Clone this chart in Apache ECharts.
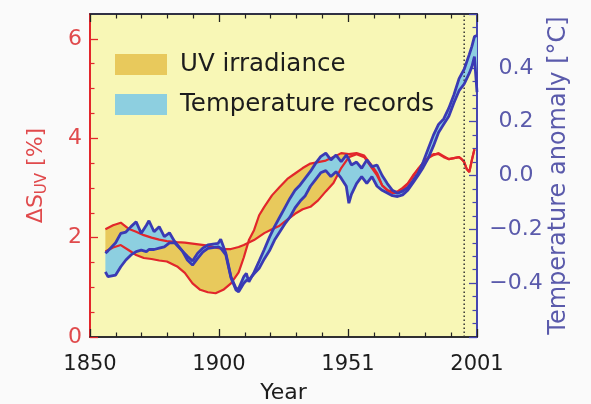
<!DOCTYPE html>
<html><head><meta charset="utf-8">
<script src="https://cdn.jsdelivr.net/npm/echarts@6/dist/echarts.min.js"></script>
<style>html,body{margin:0;padding:0;background:#fafafa;}#c{width:591px;height:404px;}</style>
</head><body><div id="c"></div>
<script>
// ---- data ----
const uvYears = [1856,1859,1862,1865,1868,1871,1874,1877,1880,1884,1887,1890,1893,1896,1899,1902,1905,1908,1910,1912,1914,1916,1918,1921,1924,1927,1930,1933,1936,1939,1942,1945,1948,1951,1954,1957,1960,1962,1964,1966,1968,1970,1972,1974,1976,1978,1980,1982,1984,1986,1988,1990,1992,1994,1995,1996,1997,1998,1999,2000];
const uvCurveA = [2.17,2.25,2.30,2.18,2.12,2.05,2.00,1.96,1.93,1.91,1.90,1.88,1.86,1.84,1.80,1.77,1.77,1.81,1.85,1.90,1.95,2.02,2.09,2.17,2.24,2.36,2.48,2.57,2.62,2.75,2.93,3.10,3.40,3.62,3.68,3.62,3.40,3.25,3.05,2.95,2.90,2.90,2.97,3.08,3.22,3.38,3.50,3.60,3.66,3.70,3.64,3.58,3.60,3.62,3.58,3.52,3.38,3.32,3.56,3.78];
const uvCurveB = [1.72,1.80,1.85,1.75,1.65,1.59,1.57,1.54,1.52,1.42,1.29,1.08,0.95,0.90,0.88,0.95,1.08,1.30,1.60,1.95,2.15,2.45,2.62,2.85,3.02,3.18,3.29,3.40,3.49,3.52,3.55,3.62,3.70,3.68,3.70,3.65,3.45,3.30,3.05,2.96,2.92,2.93,3.00,3.09,3.25,3.38,3.50,3.62,3.68,3.68,3.62,3.58,3.60,3.62,3.58,3.52,3.38,3.32,3.56,3.78];

const tempYears = [1856,1857,1860,1862,1864,1866,1868,1870,1872,1873,1875,1877,1879,1881,1883,1886,1888,1890,1892,1894,1896,1898,1900,1901,1903,1905,1907,1908,1910,1911,1912,1914,1916,1918,1920,1922,1924,1926,1928,1930,1932,1934,1936,1938,1940,1942,1944,1946,1948,1950,1951,1952,1954,1956,1958,1960,1962,1964,1966,1968,1970,1972,1974,1976,1978,1980,1982,1984,1986,1988,1990,1992,1994,1996,1998,1999,2000,2001];
const tempUpper = [-0.289,-0.280,-0.250,-0.215,-0.210,-0.190,-0.172,-0.215,-0.185,-0.168,-0.209,-0.190,-0.227,-0.213,-0.245,-0.280,-0.300,-0.318,-0.289,-0.270,-0.258,-0.255,-0.252,-0.237,-0.289,-0.376,-0.420,-0.420,-0.376,-0.364,-0.395,-0.360,-0.318,-0.275,-0.230,-0.190,-0.155,-0.120,-0.085,-0.055,-0.035,-0.010,0.015,0.045,0.070,0.083,0.058,0.076,0.051,0.076,0.060,0.039,0.050,0.027,0.058,0.033,0.039,0.000,-0.030,-0.055,-0.066,-0.058,-0.045,-0.020,0.008,0.050,0.100,0.150,0.190,0.210,0.250,0.300,0.360,0.395,0.450,0.480,0.516,0.520];
const tempLower = [-0.358,-0.376,-0.370,-0.339,-0.314,-0.295,-0.283,-0.277,-0.283,-0.275,-0.275,-0.270,-0.265,-0.250,-0.250,-0.280,-0.314,-0.333,-0.308,-0.285,-0.271,-0.268,-0.265,-0.270,-0.295,-0.380,-0.426,-0.432,-0.400,-0.390,-0.388,-0.365,-0.345,-0.310,-0.280,-0.240,-0.210,-0.180,-0.155,-0.120,-0.095,-0.075,-0.040,-0.015,0.010,0.018,-0.004,0.014,-0.010,-0.040,-0.103,-0.070,-0.030,-0.004,-0.029,-0.004,-0.040,-0.055,-0.065,-0.075,-0.078,-0.072,-0.055,-0.028,0.000,0.030,0.065,0.110,0.160,0.190,0.220,0.270,0.315,0.340,0.380,0.405,0.442,0.310];

const markerYear = 1996;

const xMajorTicks = [1850, 1900.33, 1950.67, 2001];
const xTickLabels = ['1850', '1900', '1951', '2001'];
const xMinorTicks = [1860.07,1870.13,1880.2,1890.27,1910.4,1920.47,1930.53,1940.6,1960.73,1970.8,1980.87,1990.93];
const leftTickValues = [0, 2, 4, 6];
const leftTickLabels = ['0', '2', '4', '6'];
const leftMinorTicks = [0.5,1,1.5,2.5,3,3.5,4.5,5,5.5];
const rightTickValues = [-0.4, -0.2, 0, 0.2, 0.4];
const rightTickLabels = ['\u22120.4', '\u22120.2', '0.0', '0.2', '0.4'];

// ---- styling ----
const FONT = 'DejaVu Sans';
const RED = '#e2262b', REDTXT = '#e04a4c';
const BLUE = '#3a3ab4', BLUETXT = '#5a5aab';
const GOLD = '#e8c95c', SKY = '#8dcfe0';
const INK = '#1c1c1c';

function lookup(vals, labels, v) {
  for (let i = 0; i < vals.length; i++) if (Math.abs(vals[i] - v) < 1e-6) return labels[i];
  return '';
}
const pairs = (xs, ys) => xs.map((x, i) => [x, ys[i]]);

function bandSeries(xs, lo, hi, color, yAxisIndex) {
  return {
    type: 'custom', yAxisIndex: yAxisIndex, silent: true,
    data: xs.map((x, i) => [x, lo[i], hi[i]]),
    encode: {x: 0, y: [1, 2]},
    renderItem: function (params, api) {
      if (params.dataIndex !== 0) return null;
      const top = xs.map((x, i) => api.coord([x, hi[i]]));
      const bot = xs.map((x, i) => api.coord([x, lo[i]])).reverse();
      return {type: 'polygon', shape: {points: top.concat(bot)}, style: {fill: color, stroke: null}};
    }
  };
}

const xBase = {type: 'value', min: 1850, max: 2001, splitLine: {show: false}};
const chart = echarts.init(document.getElementById('c'));
chart.setOption({
  animation: false,
  backgroundColor: '#fafafa',
  grid: {left: 90, right: 114, top: 14, bottom: 67, outerBoundsMode: 'none', containLabel: false,
         show: true, backgroundColor: '#f8f7b6', borderColor: '#2a2a3a', borderWidth: 1.5},
  legend: {
    data: ['UV irradiance', 'Temperature records'], orient: 'vertical', left: 115, top: 52, padding: 0,
    itemWidth: 52, itemHeight: 21, itemGap: 15, icon: 'rect', selectedMode: false,
    textStyle: {fontFamily: FONT, fontSize: 24.5, color: INK, lineHeight: 21, padding: [0, 0, 0, 8]}
  },
  xAxis: [
    Object.assign({}, xBase, {position: 'bottom',
      axisLine: {show: true, onZero: false, lineStyle: {color: '#222', width: 1.5}},
      axisTick: {show: true, inside: true, length: 8, customValues: xMajorTicks, lineStyle: {color: '#222', width: 1.3}},
      axisLabel: {customValues: xMajorTicks, formatter: v => lookup(xMajorTicks, xTickLabels, v), fontFamily: FONT, fontSize: 21, color: INK, margin: 17},
      name: 'Year', nameLocation: 'middle', nameGap: 45, nameMoveOverlap: false, nameTextStyle: {fontFamily: FONT, fontSize: 22, color: INK}}),
    Object.assign({}, xBase, {position: 'bottom', axisLine: {show: false, onZero: false},
      axisTick: {show: true, inside: true, length: 4.5, customValues: xMinorTicks, lineStyle: {color: '#222', width: 1.2}},
      axisLabel: {show: false}}),
    Object.assign({}, xBase, {position: 'top',
      axisLine: {show: true, onZero: false, lineStyle: {color: '#22223a', width: 1.5}},
      axisTick: {show: true, inside: true, length: 8, customValues: xMajorTicks, lineStyle: {color: '#222', width: 1.3}},
      axisLabel: {show: false}}),
    Object.assign({}, xBase, {position: 'top', axisLine: {show: false, onZero: false},
      axisTick: {show: true, inside: true, length: 4.5, customValues: xMinorTicks, lineStyle: {color: '#222', width: 1.2}},
      axisLabel: {show: false}})
  ],
  yAxis: [
    {type: 'value', min: 0, max: 6.5, position: 'left', splitLine: {show: false},
      axisLine: {show: true, onZero: false, lineStyle: {color: RED, width: 2}},
      axisTick: {show: true, inside: true, length: 8, customValues: leftTickValues, lineStyle: {color: RED, width: 1.3}},
      axisLabel: {customValues: leftTickValues, formatter: v => lookup(leftTickValues, leftTickLabels, v), fontFamily: FONT, fontSize: 22, color: REDTXT, margin: 8},
      name: '{a|\u0394S}{s|UV}{a| [%]}', nameLocation: 'middle', nameGap: 40, nameRotate: 90, nameMoveOverlap: false,
      nameTextStyle: {color: REDTXT, fontFamily: FONT, fontSize: 22,
        rich: {a: {fontFamily: FONT, fontSize: 22, color: REDTXT, lineHeight: 28},
               s: {fontFamily: FONT, fontSize: 15, color: REDTXT, lineHeight: 16, verticalAlign: 'bottom'}}}},
    {type: 'value', min: -0.6, max: 0.6, interval: 0.2, position: 'right', splitLine: {show: false}, minorSplitLine: {show: false},
      axisLine: {show: true, onZero: false, lineStyle: {color: '#4646b0', width: 2}},
      axisTick: {show: true, inside: true, length: 8, lineStyle: {color: '#4646b0', width: 1.3}},
      minorTick: {show: true, splitNumber: 4, length: 4.5, lineStyle: {color: '#4646b0', width: 1.2}},
      axisLabel: {customValues: rightTickValues, formatter: v => lookup(rightTickValues, rightTickLabels, v), align: 'center', fontFamily: FONT, fontSize: 22, color: BLUETXT, margin: 39},
      name: 'Temperature anomaly [\u00b0C]', nameLocation: 'middle', nameGap: 70, nameRotate: 90, nameMoveOverlap: false,
      nameTextStyle: {color: BLUETXT, fontFamily: FONT, fontSize: 24}},
    {type: 'value', min: 0, max: 6.5, position: 'left', splitLine: {show: false}, axisLine: {show: false, onZero: false},
      axisTick: {show: true, inside: true, length: 4.5, customValues: leftMinorTicks, lineStyle: {color: RED, width: 1.2}},
      axisLabel: {show: false}}
  ],
  series: [
    bandSeries(uvYears, uvCurveA, uvCurveB, GOLD, 0),
    {type: 'line', data: pairs(uvYears, uvCurveA), symbol: 'none', lineStyle: {color: RED, width: 2.2}, silent: true},
    {type: 'line', data: pairs(uvYears, uvCurveB), symbol: 'none', lineStyle: {color: RED, width: 2.2}, silent: true},
    {type: 'line', data: [[markerYear, 0], [markerYear, 6.5]], symbol: 'none', lineStyle: {color: '#333', width: 1.5, type: [1.5, 2.5]}, silent: true},
    bandSeries(tempYears, tempLower, tempUpper, SKY, 1),
    {type: 'line', yAxisIndex: 1, data: pairs(tempYears, tempUpper), symbol: 'none', lineStyle: {color: BLUE, width: 2.8}, silent: true},
    {type: 'line', yAxisIndex: 1, data: pairs(tempYears, tempLower), symbol: 'none', lineStyle: {color: BLUE, width: 2.8}, silent: true},
    {type: 'bar', name: 'UV irradiance', data: [], itemStyle: {color: GOLD}},
    {type: 'bar', name: 'Temperature records', data: [], itemStyle: {color: SKY}}
  ]
});
</script></body></html>
